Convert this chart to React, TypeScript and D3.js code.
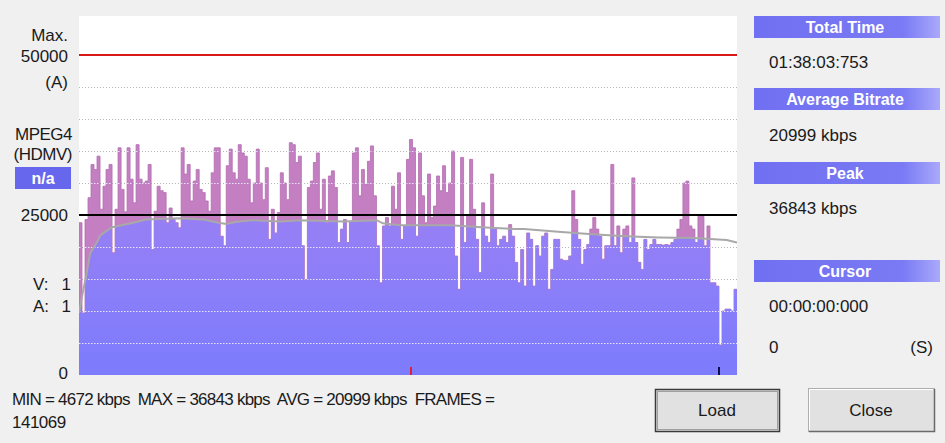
import React from "react";
import * as d3 from "d3";

// ---- data (kbps / 1000) ----
const bitrate: number[] = [
  23.8, 9.7, 24.3, 27.7, 32.9, 32.1, 34.2, 25.9, 29.5, 32.1,
  32.9, 19.1, 25.9, 35.5, 29.0, 25.5, 35.5, 30.6, 26.9, 36.0,
  30.6, 30.0, 30.3, 32.9, 19.6, 25.6, 29.5, 28.8, 28.5, 23.8,
  26.1, 24.3, 23.8, 23.0, 35.5, 31.4, 32.9, 27.2, 30.3, 32.1,
  29.0, 28.5, 27.2, 25.6, 31.6, 35.5, 35.5, 21.7, 20.2, 32.7,
  35.3, 31.6, 30.6, 36.0, 34.7, 34.2, 30.6, 26.9, 30.0, 35.3,
  30.0, 27.4, 32.4, 21.2, 25.9, 22.2, 25.4, 31.6, 30.0, 27.4,
  36.3, 36.0, 33.2, 34.2,
  20.2, 14.9, 29.3, 30.3, 33.2, 34.7, 25.9, 30.6, 23.8,
  31.1, 31.9, 29.3, 20.7, 22.8, 24.3, 20.7, 24.0, 34.7, 35.5,
  28.0, 32.1, 29.8, 33.4, 35.8, 28.0, 20.2, 14.4, 23.3, 24.6,
  23.3, 29.5, 25.9, 31.6, 21.2, 23.3, 33.7, 36.8, 35.5, 21.7,
  34.7, 28.0, 23.8, 31.4, 24.6, 26.4, 31.1, 28.8, 32.7, 28.5,
  30.0, 35.0, 18.6, 13.4, 34.0, 20.7, 24.8, 33.7, 25.9, 21.2,
  16.0, 26.9, 21.7, 20.7, 31.4, 22.8, 20.2, 21.2, 21.7, 20.7,
  23.5, 21.7, 17.6, 14.4,
  19.6, 13.9, 22.2, 21.2, 13.9, 20.2, 18.6, 21.7, 22.2,
  13.4, 16.5, 21.2, 21.2, 18.1, 17.9, 17.9, 18.6, 28.8, 24.3,
  21.2, 17.3, 19.6, 20.4, 22.8, 24.6, 22.8, 21.7, 18.1, 20.2,
  20.2, 32.9, 20.2, 23.3, 19.1, 22.8, 23.3, 20.7, 30.8, 20.7,
  17.6, 16.5, 21.2, 19.6, 20.4, 21.2, 20.4, 20.4, 20.3, 20.4,
  20.3, 20.7, 21.2, 22.8, 24.3, 30.0, 30.3, 23.3, 22.8, 20.7,
  24.8, 24.8, 20.2, 23.3, 14.4, 14.4, 13.9, 4.7, 10.0, 10.3,
  10.3, 10.0, 13.4,
];

// running average: [sample index, kbps/1000]
const avgPos: number[] = [0, 1.3, 2.4, 3.7, 6.0, 7.1, 9.4, 11.0, 18.1, 22.2, 33.3, 41.6, 46.4, 49.0, 52.0, 57.5, 66.9, 73.6, 88.0, 99.1, 101.1, 106.8, 123.6, 134.0, 145.1, 148.1, 159.5, 170.9, 182.0, 193.0, 204.5, 215.6, 219];
const avgVal: number[] = [9.7, 13.0, 15.5, 19.0, 20.8, 21.8, 22.6, 23.1, 23.8, 24.3, 24.5, 24.3, 23.8, 23.6, 23.9, 24.2, 24.0, 24.2, 24.0, 24.2, 23.7, 23.4, 23.4, 23.1, 22.8, 22.8, 22.4, 22.0, 21.7, 21.5, 21.4, 21.1, 20.7];

const gridValues: number[] = [5, 10, 15, 20, 30, 35, 40, 45];
const maxLine = 50;
const refLine = 25;
const markerPos: number[] = [110.5, 213];
const markerColor: string[] = ["#e0203a", "#10104a"];

const leftLabels = { max: "Max.", top: "50000", unit: "(A)", codec: "MPEG4", fmt: "(HDMV)", na: "n/a", mid: "25000", zero: "0" };
const headers: string[] = ["Total Time", "Average Bitrate", "Peak", "Cursor"];
const headerValues: string[] = ["01:38:03:753", "20999 kbps", "36843 kbps", "00:00:00:000"];
const statsLine1 = "MIN = 4672 kbps  MAX = 36843 kbps  AVG = 20999 kbps  FRAMES =";
const statsLine2 = "141069";

const FONT = "'Liberation Sans', Arial, sans-serif";

export default function App() {
  const W = 945, H = 443;
  const px0 = 79, px1 = 737, pyTop = 16, pyBot = 375;
  const n = bitrate.length;
  const x = d3.scaleLinear().domain([0, n]).range([px0, px1]);
  const y = d3.scaleLinear().domain([0, 56.1]).range([pyBot, pyTop]);

  const barPts: [number, number][] = bitrate.map((v, i) => [i, v]);
  barPts.push([n, bitrate[n - 1]]);
  const barArea = d3.area<[number, number]>()
    .x(d => x(d[0])).y0(pyBot).y1(d => y(d[1]))
    .curve(d3.curveStepAfter)(barPts) || "";

  const avgPts: [number, number][] = avgPos.map((p, i) => [p, avgVal[i]]);
  const avgLine = d3.line<[number, number]>().x(d => x(d[0])).y(d => y(d[1]))(avgPts) || "";
  const belowAvg = d3.area<[number, number]>().x(d => x(d[0])).y0(pyBot + 2).y1(d => y(d[1]))(avgPts) || "";

  const headerYs = [16, 88, 162, 260];
  const valueYs = [68, 141, 214, 312];
  const txt = "#1a1a1a";

  return (
    <div style={{ position: "fixed", left: 0, top: 0, width: W, height: H }}>
      <svg width={W} height={H} style={{ display: "block" }} fontFamily={FONT}>
        <defs>
          <linearGradient id="blueGrad" gradientUnits="userSpaceOnUse" x1="0" y1={pyBot} x2="0" y2={y(30)}>
            <stop offset="0" stopColor="#7c7cfd" />
            <stop offset="1" stopColor="#9d80f3" />
          </linearGradient>
          <linearGradient id="hdrGrad" x1="0" y1="0" x2="1" y2="0">
            <stop offset="0" stopColor="#7070f2" />
            <stop offset="0.8" stopColor="#7a7af4" />
            <stop offset="1" stopColor="#a9a9fb" />
          </linearGradient>
          <clipPath id="belowAvgClip"><path d={belowAvg} /></clipPath>
          <clipPath id="barClip"><path d={barArea} /></clipPath>
          <clipPath id="plotClip"><rect x={px0} y={pyTop} width={px1 - px0} height={pyBot - pyTop} /></clipPath>
        </defs>
        <rect x={0} y={0} width={W} height={H} fill="#f0f0f0" />
        <rect x={px0} y={pyTop} width={px1 - px0} height={pyBot - pyTop} fill="#ffffff" />

        <g clipPath="url(#plotClip)">
          {gridValues.map(g => (
            <line key={"g" + g} x1={px0} x2={px1} y1={y(g) + 0.5} y2={y(g) + 0.5} stroke="#b4b4b4" strokeWidth={1} strokeDasharray="1 2" />
          ))}
          <path d={barArea} fill="#c47fc2" stroke="#b26cae" strokeWidth={0.8} />
          <path d={barArea} fill="url(#blueGrad)" clipPath="url(#belowAvgClip)" />
          <g clipPath="url(#barClip)">
            {gridValues.map(g => (
              <line key={"w" + g} x1={px0} x2={px1} y1={y(g) + 0.5} y2={y(g) + 0.5} stroke="#e8e4ff" strokeWidth={1.2} strokeDasharray="1.5 1.5" />
            ))}
          </g>
          <path d={avgLine} fill="none" stroke="#a8a8a8" strokeWidth={2} />
          <line x1={px0} x2={px1} y1={y(refLine)} y2={y(refLine)} stroke="#000000" strokeWidth={2} />
          <line x1={px0} x2={px1} y1={y(maxLine)} y2={y(maxLine)} stroke="#d81818" strokeWidth={2} />
          {markerPos.map((m, i) => (
            <line key={"m" + i} x1={x(m)} x2={x(m)} y1={pyBot - 8} y2={pyBot} stroke={markerColor[i]} strokeWidth={2} />
          ))}
        </g>

        {/* left labels */}
        <g fontSize={17} fill={txt}>
          <text x={68} y={41} textAnchor="end">{leftLabels.max}</text>
          <text x={68} y={62} textAnchor="end">{leftLabels.top}</text>
          <text x={68} y={88} textAnchor="end">{leftLabels.unit}</text>
          <text x={72} y={140} textAnchor="end" letterSpacing={-0.5}>{leftLabels.codec}</text>
          <text x={72} y={160} textAnchor="end" letterSpacing={-0.5}>{leftLabels.fmt}</text>
          <text x={68} y={221} textAnchor="end">{leftLabels.mid}</text>
          <text x={33} y={290}>V:</text>
          <text x={71} y={290} textAnchor="end">1</text>
          <text x={33} y={312}>A:</text>
          <text x={71} y={312} textAnchor="end">1</text>
          <text x={68} y={379} textAnchor="end">{leftLabels.zero}</text>
        </g>
        <rect x={15} y={167} width={56} height={22} fill="#6767ee" />
        <text x={43} y={184} textAnchor="middle" fontSize={16} fontWeight="bold" fill="#ffffff">{leftLabels.na}</text>

        {/* right panel */}
        {headers.map((h, i) => (
          <g key={h}>
            <rect x={754} y={headerYs[i]} width={186} height={22} fill="url(#hdrGrad)" />
            <text x={845} y={headerYs[i] + 17} textAnchor="middle" fontSize={16} fontWeight="bold" fill="#ffffff">{h}</text>
            <text x={769} y={valueYs[i]} fontSize={17} fill={txt}>{headerValues[i]}</text>
          </g>
        ))}
        <text x={769} y={353} fontSize={17} fill={txt}>0</text>
        <text x={933} y={353} fontSize={17} fill={txt} textAnchor="end">(S)</text>

        {/* buttons */}
        <rect x={655.5} y={389.5} width={124} height={42} fill="#e1e1e1" stroke="#3a3a3a" strokeWidth={1.5} />
        <rect x={657.5} y={391.5} width={120} height={38} fill="none" stroke="#a0a0a0" strokeWidth={1} />
        <text x={717} y={416} textAnchor="middle" fontSize={17} fill={txt}>Load</text>
        <rect x={808.5} y={388.5} width={126} height={43} fill="#e1e1e1" stroke="#adadad" strokeWidth={1} />
        <path d="M809 431.5 H934.5 V389" fill="none" stroke="#6a6a6a" strokeWidth={1.5} />
        <path d="M809.5 430 V389.5 H933" fill="none" stroke="#ffffff" strokeWidth={1} />
        <text x={871} y={416} textAnchor="middle" fontSize={17} fill={txt}>Close</text>

        {/* stats */}
        <text x={12} y={405} fontSize={17} fill={txt} letterSpacing={-0.75} style={{ whiteSpace: "pre" }}>{statsLine1}</text>
        <text x={12} y={428} fontSize={17} fill={txt} letterSpacing={-0.5}>{statsLine2}</text>
      </svg>
    </div>
  );
}
